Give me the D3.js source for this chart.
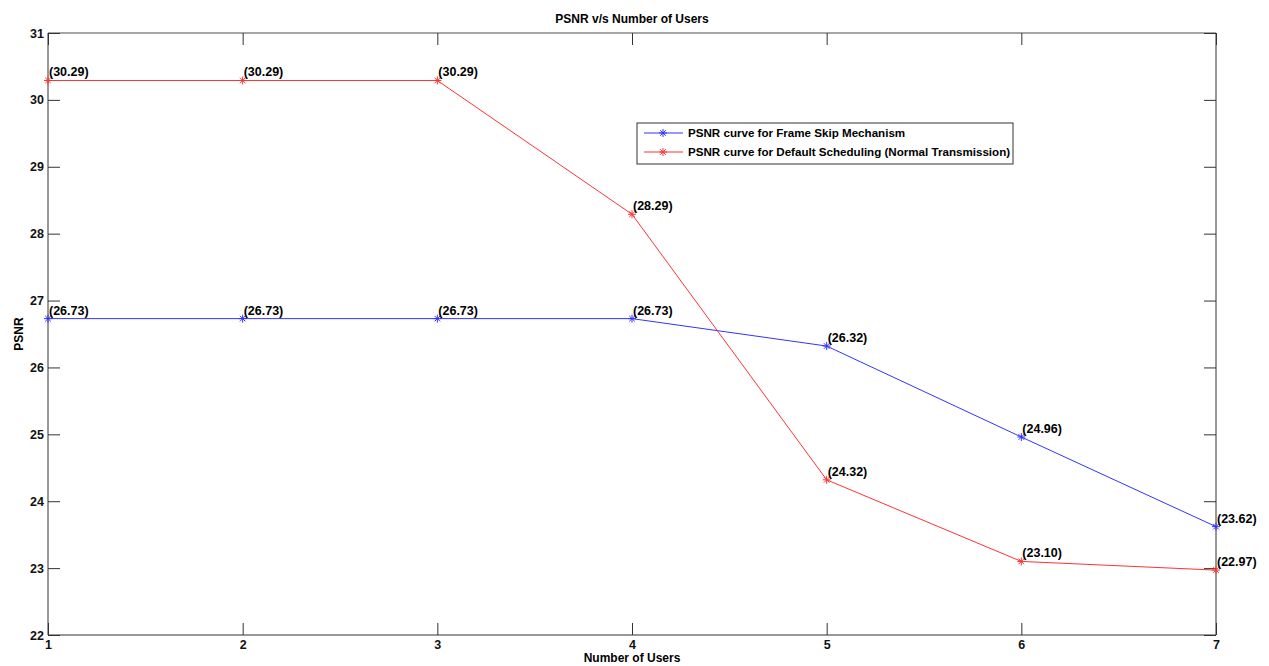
<!DOCTYPE html>
<html lang="en">
<head>
<meta charset="UTF-8" />
<title>PSNR v/s Number of Users</title>
<script src="https://d3js.org/d3.v7.min.js"></script>
<style>
    body { margin: 0; background: #fff; }
    svg text { font-family: Arial, "Liberation Sans", sans-serif; font-weight: bold; }
</style>
</head>
<body>
<div id="chart"></div>
<script>
    // --- Data ---
    const users = [1, 2, 3, 4, 5, 6, 7];
    const frameSkip = [26.73, 26.73, 26.73, 26.73, 26.32, 24.96, 23.62];
    const defaultSched = [30.29, 30.29, 30.29, 28.29, 24.32, 23.10, 22.97];
    const xTicks = [1, 2, 3, 4, 5, 6, 7];
    const yTicks = [22, 23, 24, 25, 26, 27, 28, 29, 30, 31];
    const seriesNames = [
        "PSNR curve for Frame Skip Mechanism",
        "PSNR curve for Default Scheduling (Normal Transmission)"
    ];
    const seriesColors = ["#3333ff", "#ff3333"];

    const W = 1269, H = 666;
    const margin = {left: 48, right: 53, top: 33, bottom: 31};
    const svg = d3.select("#chart").append("svg")
        .attr("width", W).attr("height", H);

    const x = d3.scaleLinear().domain([1, 7]).range([margin.left, W - margin.right]);
    const y = d3.scaleLinear().domain([22, 31]).range([H - margin.bottom, margin.top]);

    // box
    svg.append("line").attr("x1", x(1)).attr("x2", x(7)).attr("y1", y(31)).attr("y2", y(31))
        .attr("stroke", "#888").attr("stroke-width", 1.5);
    svg.append("line").attr("x1", x(1)).attr("x2", x(7)).attr("y1", y(22)).attr("y2", y(22))
        .attr("stroke", "#333");
    svg.append("line").attr("x1", x(1)).attr("x2", x(1)).attr("y1", y(22)).attr("y2", y(31))
        .attr("stroke", "#333");
    svg.append("line").attr("x1", x(7)).attr("x2", x(7)).attr("y1", y(22)).attr("y2", y(31))
        .attr("stroke", "#333");

    // axes with inward ticks
    const tl = 12;
    svg.append("g").attr("transform", `translate(0,${y(22)})`)
        .call(d3.axisBottom(x).tickValues(xTicks).tickSize(-tl).tickPadding(5).tickFormat(d3.format("d")))
        .call(g => g.select(".domain").remove());
    svg.append("g").attr("transform", `translate(0,${y(31)})`)
        .call(d3.axisTop(x).tickValues(xTicks).tickSize(-tl).tickFormat(""))
        .call(g => g.select(".domain").remove());
    svg.append("g").attr("transform", `translate(${x(1)},0)`)
        .call(d3.axisLeft(y).tickValues(yTicks).tickSize(-tl).tickPadding(4).tickFormat(d3.format("d")))
        .call(g => g.select(".domain").remove());
    svg.append("g").attr("transform", `translate(${x(7)},0)`)
        .call(d3.axisRight(y).tickValues(yTicks).tickSize(-tl).tickFormat(""))
        .call(g => g.select(".domain").remove());
    svg.selectAll(".tick line").attr("stroke", "#333");
    svg.selectAll(".tick text").attr("font-size", 12.5).attr("fill", "#111")
        .style("font-family", "Arial, 'Liberation Sans', sans-serif").style("font-weight", "bold");

    // titles
    svg.append("text").attr("x", x(4)).attr("y", 23).attr("text-anchor", "middle")
        .attr("font-size", 12).text("PSNR v/s Number of Users");
    svg.append("text").attr("x", x(4)).attr("y", 662).attr("text-anchor", "middle")
        .attr("font-size", 12).text("Number of Users");
    svg.append("text").attr("transform", "translate(23,334) rotate(-90)")
        .attr("text-anchor", "middle").attr("font-size", 12).text("PSNR");

    function star(g, cx, cy, color) {
        const s = 4;
        const p = `M${cx - s},${cy}H${cx + s}M${cx},${cy - s}V${cy + s}` +
            `M${cx - s * 0.7},${cy - s * 0.7}L${cx + s * 0.7},${cy + s * 0.7}` +
            `M${cx - s * 0.7},${cy + s * 0.7}L${cx + s * 0.7},${cy - s * 0.7}`;
        g.append("path").attr("d", p).attr("stroke", color).attr("stroke-width", 1).attr("fill", "none");
    }

    const line = d3.line().x((d, i) => x(users[i])).y(d => y(d));
    [frameSkip, defaultSched].forEach((vals, k) => {
        const g = svg.append("g");
        g.append("path").datum(vals).attr("d", line)
            .attr("fill", "none").attr("stroke", seriesColors[k]).attr("stroke-width", 1);
        vals.forEach((v, i) => star(g, x(users[i]), y(v), seriesColors[k]));
        g.selectAll("text").data(vals).join("text")
            .attr("x", (d, i) => x(users[i]) + 1)
            .attr("y", d => y(d) - 4)
            .attr("font-size", 12.5).attr("fill", "#000")
            .text(d => `(${d.toFixed(2)})`);
    });

    // legend
    const lg = svg.append("g").attr("transform", "translate(637,123)");
    lg.append("rect").attr("width", 376).attr("height", 41)
        .attr("fill", "#fff").attr("stroke", "#333").attr("stroke-width", 1);
    seriesNames.forEach((name, k) => {
        const ly = 10 + k * 19;
        lg.append("line").attr("x1", 7).attr("x2", 46).attr("y1", ly).attr("y2", ly)
            .attr("stroke", seriesColors[k]);
        star(lg, 26, ly, seriesColors[k]);
        lg.append("text").attr("x", 51).attr("y", ly + 4).attr("font-size", 11.6).text(name);
    });
</script>
</body>
</html>
